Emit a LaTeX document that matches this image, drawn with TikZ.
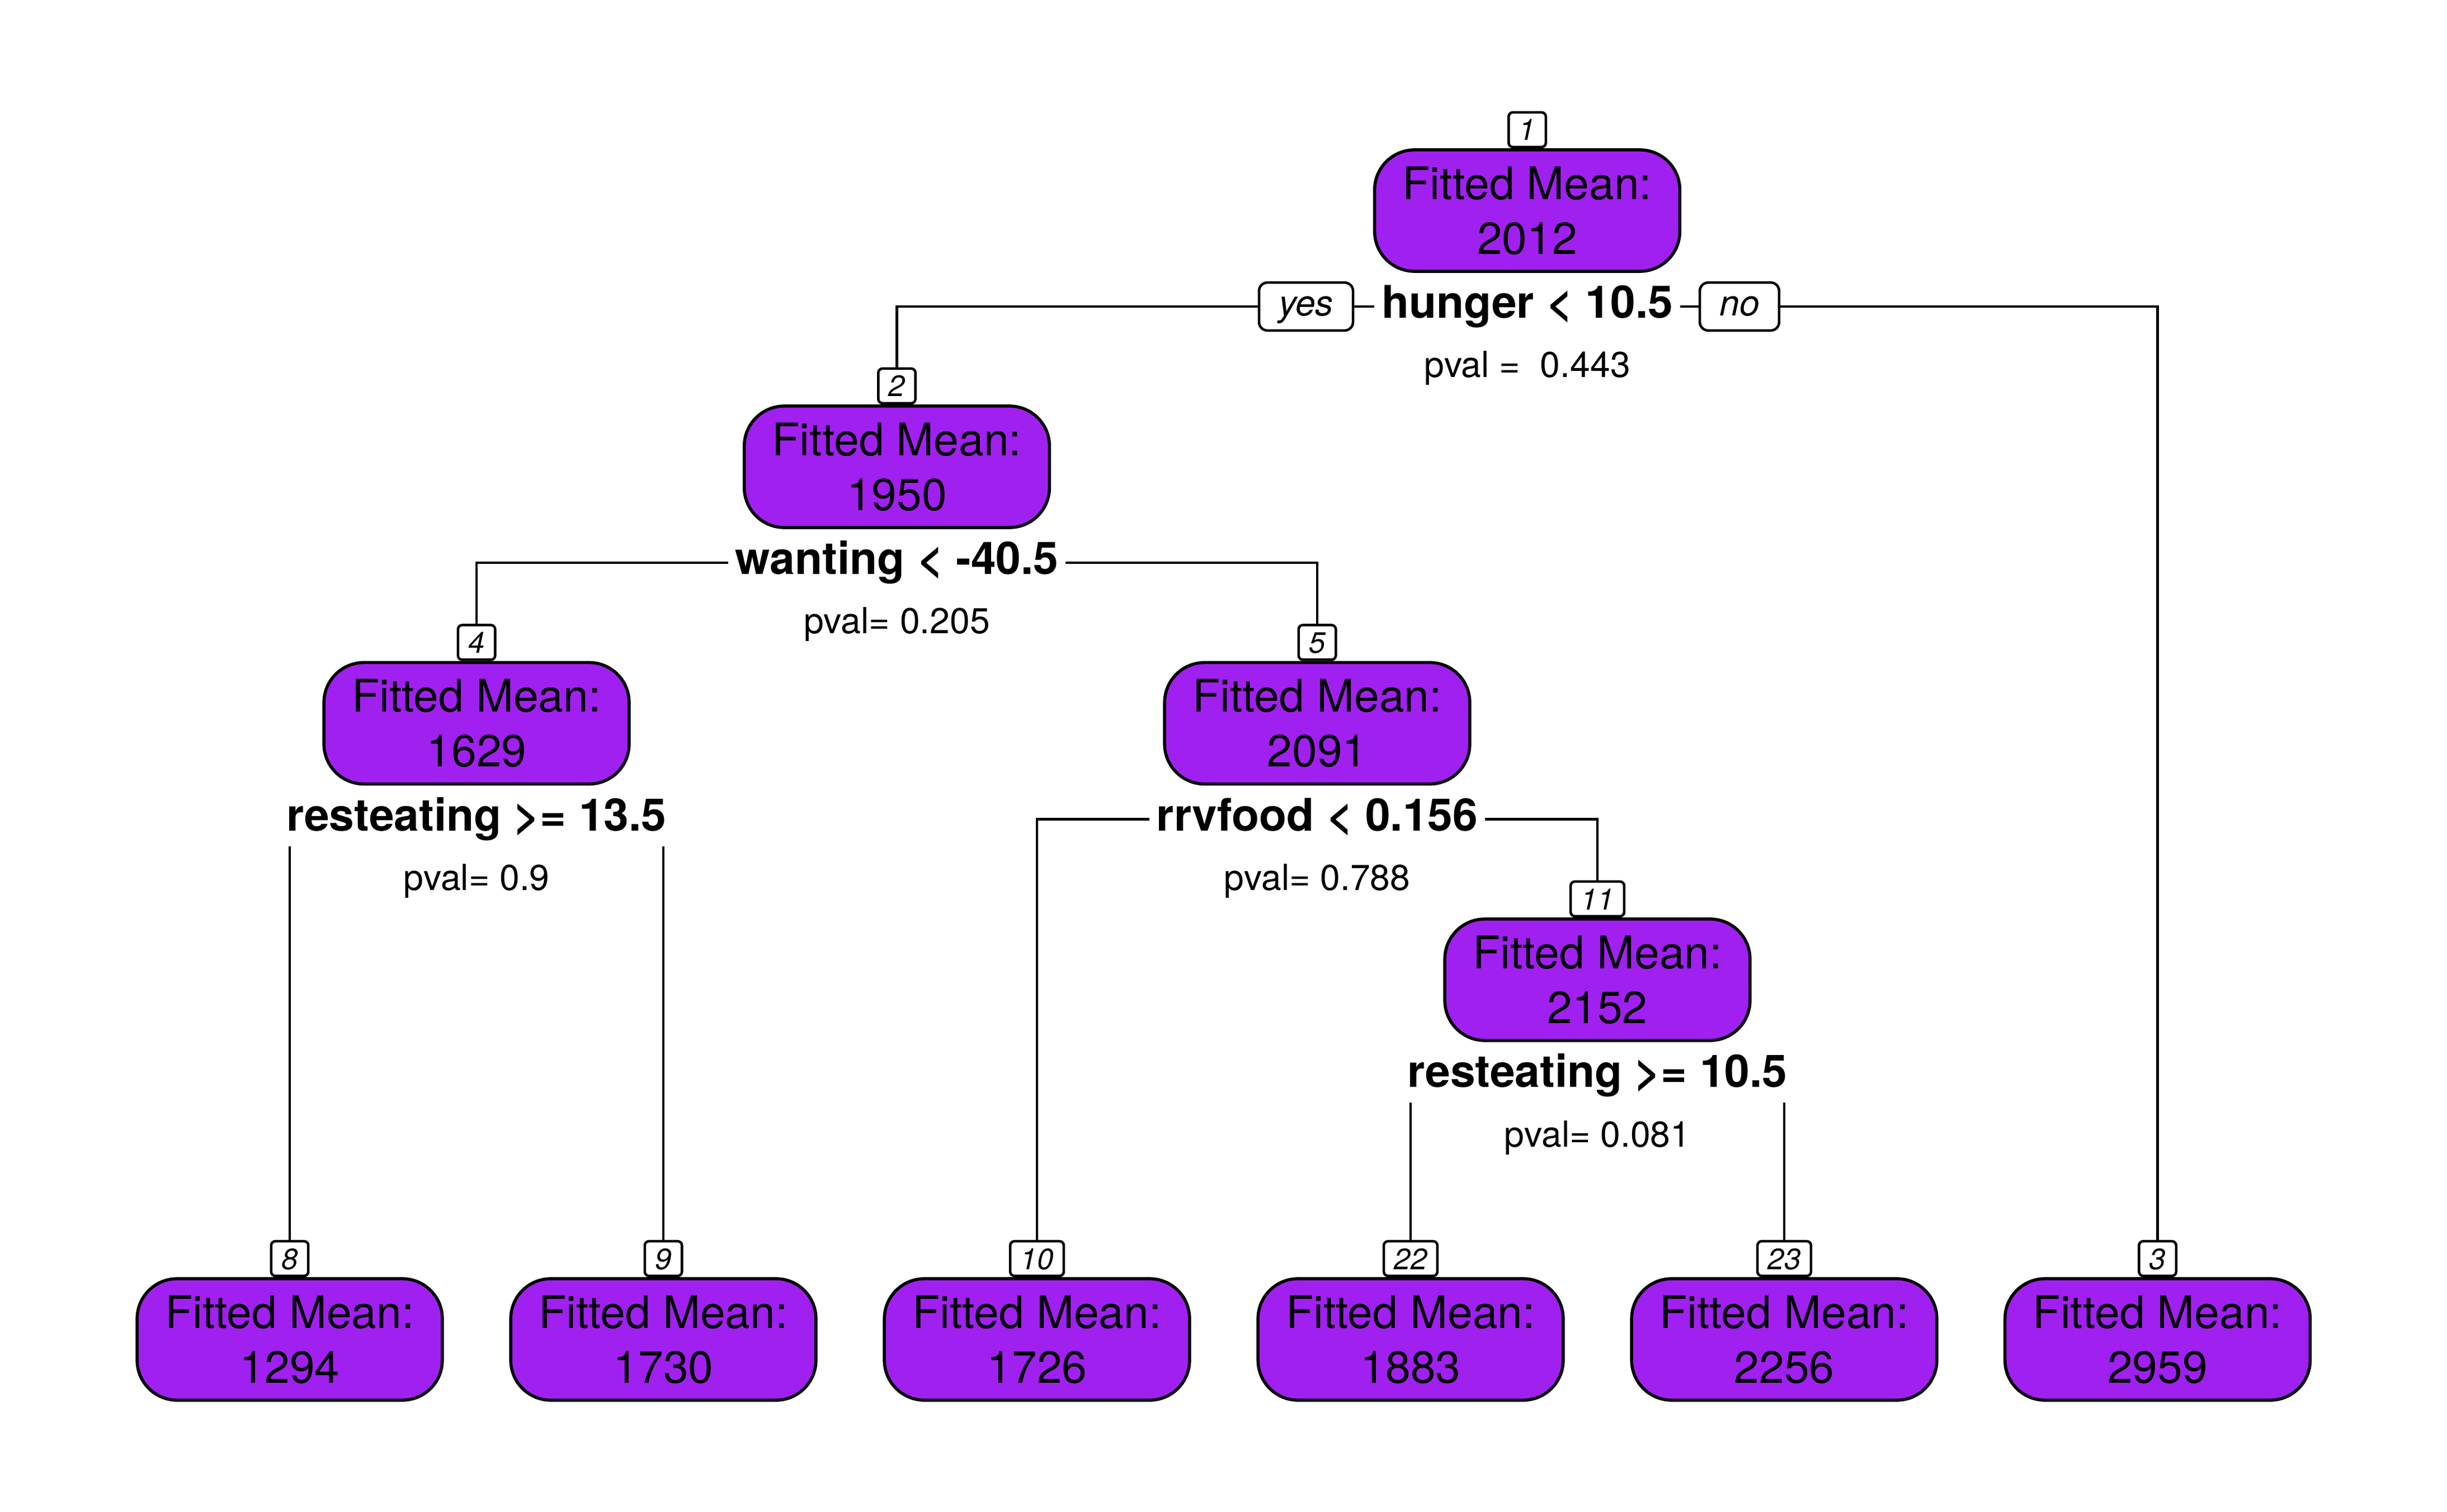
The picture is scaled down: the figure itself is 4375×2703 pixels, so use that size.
\documentclass[tikz,border=0pt]{standalone}
\usepackage{fontspec}
\setmainfont{TeX Gyre Heros}
\usepackage{tikz}
\usetikzlibrary{positioning}
\definecolor{fitpurple}{HTML}{A020F0}

\begin{document}
\begin{tikzpicture}[x=0.07mm, y=0.07mm,
	fitbox/.style={draw=black, line width=1.1pt, fill=fitpurple, rounded corners=0.5cm, minimum width=3.82cm, minimum height=1.52cm, inner sep=0pt, align=center, font=\fontsize{16}{19.5}\selectfont},
	numtag/.style={draw=black, line width=0.9pt, fill=white, rounded corners=1.5pt, inner xsep=3.7pt, inner ysep=0pt, minimum height=0.434cm, text height=7.6pt, text depth=0pt, anchor=south, font=\fontsize{10.5}{12}\selectfont\itshape},
	splitlbl/.style={fill=white, inner xsep=2.4pt, inner ysep=1.9pt, text height=11.7pt, text depth=3.4pt, font=\fontsize{16}{19}\selectfont\bfseries},
	pvallbl/.style={anchor=base, inner sep=0pt, font=\fontsize{12.8}{15}\selectfont},
	yesno/.style={draw=black, line width=0.9pt, fill=white, rounded corners=3pt, inner xsep=7pt, inner ysep=0pt, minimum height=0.6cm, text height=9.2pt, text depth=2.6pt, font=\fontsize{12.8}{15}\selectfont\itshape},
	edge/.style={line width=0.9pt}]
	\useasboundingbox (0,0) rectangle (4375,-2703);

	% inner nodes
	\node[fitbox] (n1) at (2730.5,-376.5) {Fitted Mean:\\2012};
	\node[numtag] (t1) at (n1.north) {1};
	\node[splitlbl] (s1) at (2730.5,-548) {hunger < 10.5};
	\node[pvallbl] (p1) at (2730.5,-675) {pval = \ 0.443};
	\node[yesno, left=0.25cm of s1] (yes) {yes};
	\node[yesno, right=0.23cm of s1] (no) {no};

	\node[fitbox] (n2) at (1603.5,-834.5) {Fitted Mean:\\1950};
	\node[numtag] (t2) at (n2.north) {2};
	\node[splitlbl] (s2) at (1603.5,-1006) {wanting < -40.5};
	\node[pvallbl] (p2) at (1603.5,-1133) {pval= 0.205};

	\node[fitbox] (n4) at (852,-1293) {Fitted Mean:\\1629};
	\node[numtag] (t4) at (n4.north) {4};
	\node[splitlbl] (s4) at (852,-1464.5) {resteating >= 13.5};
	\node[pvallbl] (p4) at (852,-1591.5) {pval= 0.9};

	\node[fitbox] (n5) at (2355,-1293) {Fitted Mean:\\2091};
	\node[numtag] (t5) at (n5.north) {5};
	\node[splitlbl] (s5) at (2355,-1464.5) {rrvfood < 0.156};
	\node[pvallbl] (p5) at (2355,-1591.5) {pval= 0.788};

	\node[fitbox] (n11) at (2856,-1751.5) {Fitted Mean:\\2152};
	\node[numtag] (t11) at (n11.north) {11};
	\node[splitlbl] (s11) at (2856,-1923) {resteating >= 10.5};
	\node[pvallbl] (p11) at (2856,-2050) {pval= 0.081};

	% leaves
	\node[fitbox] (n8) at (518,-2394.5) {Fitted Mean:\\1294};
	\node[numtag] (t8) at (n8.north) {8};
	\node[fitbox] (n9) at (1186,-2394.5) {Fitted Mean:\\1730};
	\node[numtag] (t9) at (n9.north) {9};
	\node[fitbox] (n10) at (1854,-2394.5) {Fitted Mean:\\1726};
	\node[numtag] (t10) at (n10.north) {10};
	\node[fitbox] (n22) at (2522,-2394.5) {Fitted Mean:\\1883};
	\node[numtag] (t22) at (n22.north) {22};
	\node[fitbox] (n23) at (3190,-2394.5) {Fitted Mean:\\2256};
	\node[numtag] (t23) at (n23.north) {23};
	\node[fitbox] (n3) at (3857.5,-2394.5) {Fitted Mean:\\2959};
	\node[numtag] (t3) at (n3.north) {3};

	% branches
	\draw[edge] (s1.west) -- (yes.east);
	\draw[edge] (yes.west) -| (t2.north);
	\draw[edge] (s1.east) -- (no.west);
	\draw[edge] (no.east) -| (t3.north);
	\draw[edge] (s2.west) -| (t4.north);
	\draw[edge] (s2.east) -| (t5.north);
	\draw[edge] (t8.north |- s4.south) -- (t8.north);
	\draw[edge] (t9.north |- s4.south) -- (t9.north);
	\draw[edge] (s5.west) -| (t10.north);
	\draw[edge] (s5.east) -| (t11.north);
	\draw[edge] (t22.north |- s11.south) -- (t22.north);
	\draw[edge] (t23.north |- s11.south) -- (t23.north);
\end{tikzpicture}
\end{document}
